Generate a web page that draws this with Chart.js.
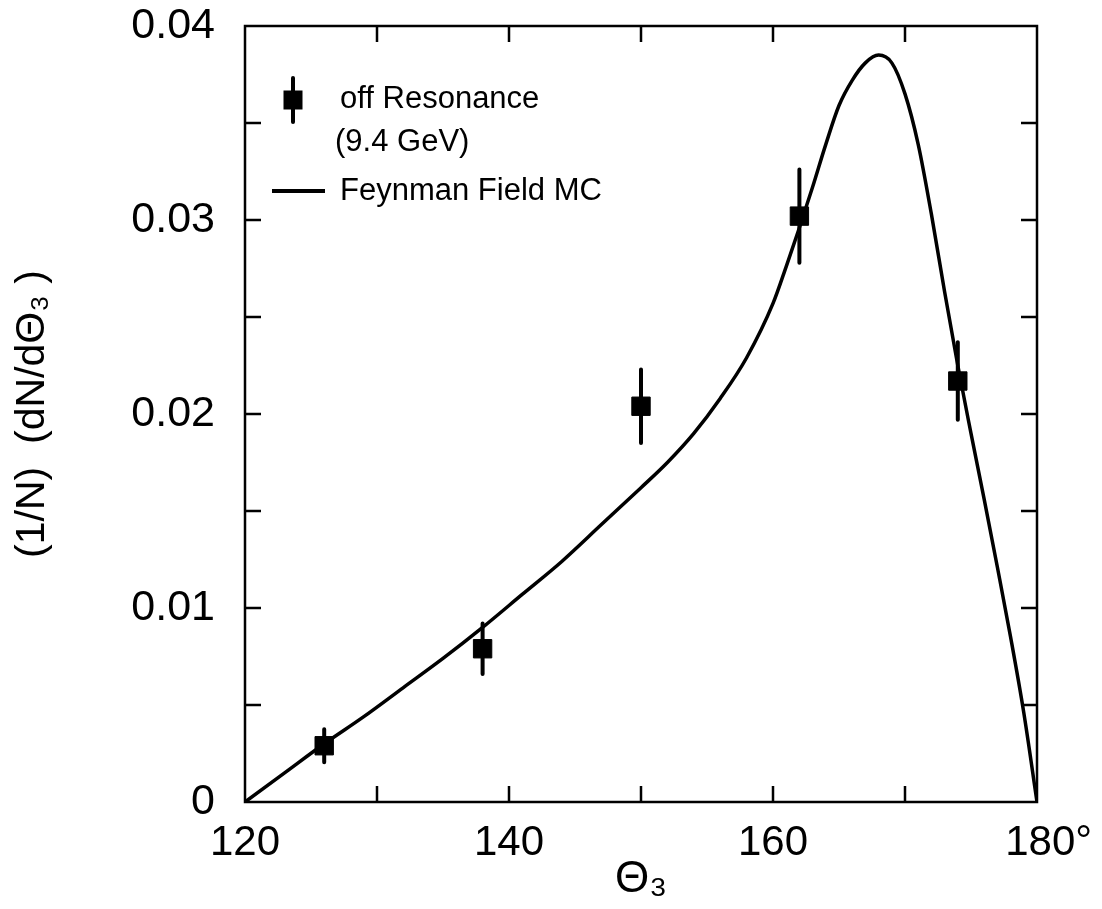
<!DOCTYPE html>
<html>
<head>
<meta charset="utf-8">
<script src="https://cdn.jsdelivr.net/npm/chart.js@4/dist/chart.umd.min.js"></script>
<style>
  html, body { margin: 0; padding: 0; background: #ffffff; }
  #wrap { width: 1102px; height: 909px; }
</style>
</head>
<body>
<div id="wrap"><canvas id="c" width="1102" height="909"></canvas></div>
<script>
// Measured angular distribution, off resonance (9.4 GeV), 12-degree bins
const binCentres = [126, 138, 150, 162, 174];
const offResonance = [0.0029, 0.0079, 0.0204, 0.0302, 0.0217];
const offResonanceErr = [0.00085, 0.0013, 0.0019, 0.0024, 0.0020];

// Feynman-Field Monte Carlo prediction
const mcTheta = [120, 123, 126, 129, 132, 135, 138, 141, 144, 147, 150, 152, 154, 156, 158,
                 160, 161, 162, 163, 164, 165, 166, 167, 168, 169, 170, 171, 172, 173, 174,
                 175, 176, 177, 178, 179, 180];
const mcValue = [0, 0.0015, 0.0030, 0.0044, 0.0059, 0.0074, 0.0090, 0.0107, 0.0124, 0.0143,
                 0.0162, 0.0175, 0.0190, 0.0208, 0.0229, 0.0257, 0.0276, 0.0296, 0.0317, 0.0339,
                 0.0359, 0.0372, 0.0381, 0.0385, 0.0381, 0.0365, 0.0339, 0.0303, 0.0263, 0.0225,
                 0.0190, 0.0156, 0.0121, 0.0085, 0.0046, 0];

// Axis tick labels
const xTickLabels = ['120', '140', '160', '  180°'];
const yTickLabels = ['0', '0.01', '0.02', '0.03', '0.04'];

// Legend texts
const legendData = ['off Resonance', '(9.4 GeV)'];
const legendModel = 'Feynman Field MC';

const INK = '#000000';
const FONT = '"Liberation Sans", Arial, "DejaVu Sans", sans-serif';

// Closed frame with inward tick marks on all four sides
const framePlugin = {
  id: 'frame',
  afterDatasetsDraw(chart) {
    const { ctx, chartArea: a, scales: { x, y } } = chart;
    const len = 16;
    ctx.save();
    ctx.strokeStyle = INK;
    ctx.lineWidth = 2.5;
    ctx.strokeRect(a.left, a.top, a.right - a.left, a.bottom - a.top);
    ctx.beginPath();
    for (let v = x.min + 10; v < x.max; v += 10) {
      const px = x.getPixelForValue(v);
      ctx.moveTo(px, a.bottom); ctx.lineTo(px, a.bottom - len);
      ctx.moveTo(px, a.top); ctx.lineTo(px, a.top + len);
    }
    for (let k = 1; k < 8; k++) {
      const py = y.getPixelForValue(k * 0.005);
      ctx.moveTo(a.left, py); ctx.lineTo(a.left + len, py);
      ctx.moveTo(a.right, py); ctx.lineTo(a.right - len, py);
    }
    ctx.stroke();
    ctx.restore();
  }
};

// Vertical error bars for the measured points
const errorBarPlugin = {
  id: 'errorBars',
  beforeDatasetsDraw(chart) {
    const { ctx, scales: { x, y } } = chart;
    ctx.save();
    ctx.strokeStyle = INK;
    ctx.lineWidth = 4;
    ctx.lineCap = 'round';
    ctx.beginPath();
    binCentres.forEach((t, i) => {
      const px = x.getPixelForValue(t);
      ctx.moveTo(px, y.getPixelForValue(offResonance[i] + offResonanceErr[i]));
      ctx.lineTo(px, y.getPixelForValue(offResonance[i] - offResonanceErr[i]));
    });
    ctx.stroke();
    ctx.restore();
  }
};

// Key in the upper-left corner of the plot
const keyPlugin = {
  id: 'key',
  afterDraw(chart) {
    const { ctx, chartArea: a } = chart;
    const mx = a.left + 48, my = a.top + 74;
    ctx.save();
    ctx.fillStyle = INK;
    ctx.strokeStyle = INK;
    // marker with error bar
    ctx.lineWidth = 4;
    ctx.lineCap = 'round';
    ctx.beginPath();
    ctx.moveTo(mx, my - 22); ctx.lineTo(mx, my + 22);
    ctx.stroke();
    ctx.fillRect(mx - 9.5, my - 9.5, 19, 19);
    // model line sample
    ctx.lineCap = 'butt';
    ctx.beginPath();
    ctx.moveTo(a.left + 27, a.top + 165); ctx.lineTo(a.left + 80, a.top + 165);
    ctx.stroke();
    // texts
    ctx.font = '31px ' + FONT;
    ctx.textAlign = 'left';
    ctx.textBaseline = 'middle';
    ctx.fillText(legendData[0], a.left + 95, a.top + 73);
    ctx.fillText(legendData[1], a.left + 90, a.top + 116);
    ctx.fillText(legendModel, a.left + 95, a.top + 165);
    ctx.restore();
  }
};

new Chart(document.getElementById('c'), {
  type: 'scatter',
  data: {
    datasets: [
      {
        label: legendModel,
        type: 'line',
        data: mcTheta.map((t, i) => ({ x: t, y: mcValue[i] })),
        borderColor: INK,
        borderWidth: 3.5,
        pointRadius: 0,
        fill: false,
        cubicInterpolationMode: 'monotone'
      },
      {
        label: legendData.join(' '),
        data: binCentres.map((t, i) => ({ x: t, y: offResonance[i] })),
        pointStyle: 'rect',
        pointRadius: 13,
        backgroundColor: INK,
        borderColor: INK,
        borderWidth: 1,
        showLine: false
      }
    ]
  },
  options: {
    responsive: false,
    animation: false,
    events: [],
    layout: { padding: { left: 0, right: 65, top: 26, bottom: 0 } },
    plugins: { legend: { display: false }, tooltip: { enabled: false } },
    scales: {
      x: {
        type: 'linear',
        min: 120, max: 180,
        grid: { display: false, drawTicks: false },
        border: { display: false },
        ticks: {
          stepSize: 20, autoSkip: false, maxRotation: 0,
          color: INK, padding: 16,
          font: { family: FONT, size: 42 },
          callback: (v, i) => xTickLabels[i]
        },
        title: {
          display: true, text: 'Θ₃', color: INK,
          font: { family: FONT, size: 44 },
          padding: { top: 0, bottom: 3 }
        },
        afterFit(s) { s.height = 107; s.paddingLeft = 0; s.paddingRight = 0; }
      },
      y: {
        min: 0, max: 0.04,
        grid: { display: false, drawTicks: false },
        border: { display: false },
        ticks: {
          stepSize: 0.01, autoSkip: false,
          color: INK, padding: 30,
          font: { family: FONT, size: 43 },
          callback: (v, i) => yTickLabels[i]
        },
        title: {
          display: true, text: '(1/N)  (dN/dΘ₃ )', color: INK,
          font: { family: FONT, size: 41 },
          padding: { top: 8, bottom: 0 }
        },
        afterFit(s) { s.width = 245; s.paddingTop = 0; s.paddingBottom = 0; }
      }
    }
  },
  plugins: [framePlugin, errorBarPlugin, keyPlugin]
});
</script>
</body>
</html>
